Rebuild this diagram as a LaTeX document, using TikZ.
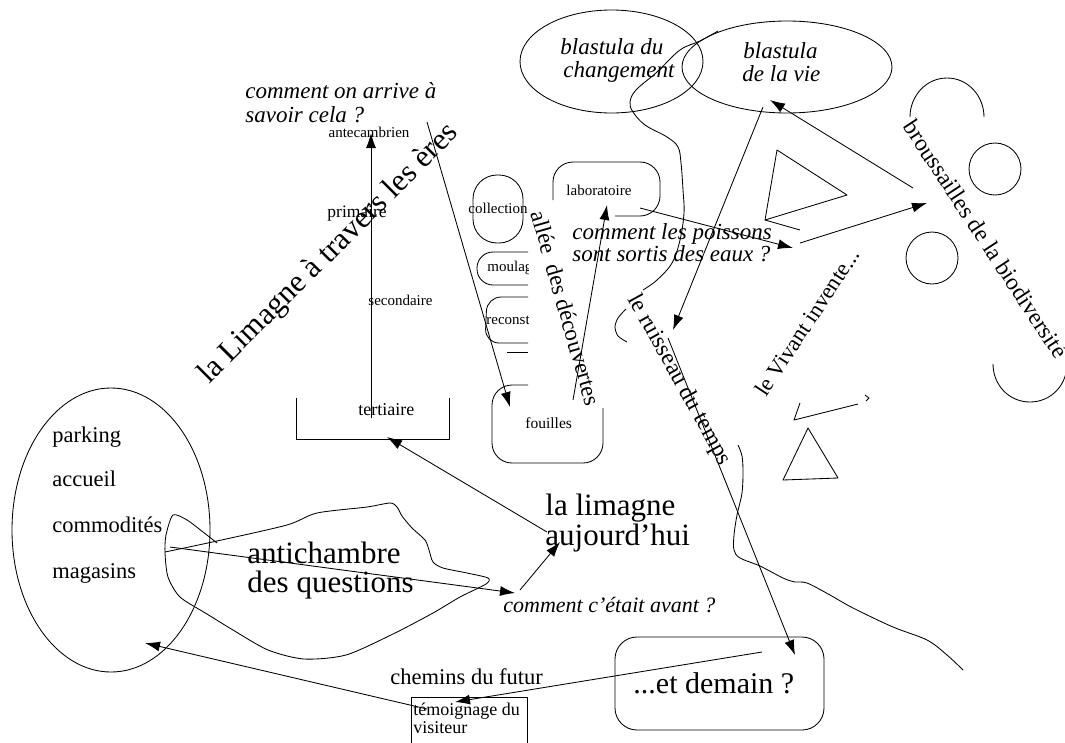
\documentclass[tikz,border=0pt]{standalone}
\usepackage{fontspec}
\setmainfont{Liberation Serif}
\usetikzlibrary{arrows.meta,shapes.geometric}
\newcommand\setsz[1]{\fontsize{#1}{#1}\selectfont}
\begin{document}
\begin{tikzpicture}[x=1pt,y=-1pt,line width=0.85pt,line join=round,
  arr/.style={-{Latex[length=15pt,width=10pt]}},
  lbl/.style={inner sep=0pt,anchor=base west},
  small/.style={lbl,font=\setsz{15}},
  mid/.style={lbl,font=\setsz{22.5}},
  ques/.style={lbl,font=\setsz{23}\itshape},
  big/.style={lbl,font=\setsz{31}},
  slant/.style={inner sep=0pt,font=\setsz{23.5}},
  bubble/.style={draw,circle,minimum size=52pt,inner sep=0pt},
  oval/.style={draw,ellipse,inner sep=0pt}]
\useasboundingbox (0,0) rectangle (1065,742);

% ---------- entrance zone ----------
\node[oval,minimum width=198pt,minimum height=284pt] (zone) at (111,530) {};
\node[mid] (parking) at (52,442) {parking};
\node[mid] (accueil) at (52,486) {accueil};
\node[mid] (commodites) at (52,532) {commodités};
\node[mid] (magasins) at (52,578) {magasins};

% antechamber outline
\draw plot[smooth,tension=0.45] coordinates {(165,552) (217,541) (287,525) (317,513) (367,507)
  (390,503) (397,507) (402,516) (412,528) (425,540) (429,550) (433,562) (443,568) (467,573)
  (488,578) (486,584) (460,597) (433,613) (393,634) (346,655) (304,659) (268,650) (233,630)
  (207,614) (180,597) (168,577) (165,553) (166,535) (173,515) (187,520) (203,532) (217,543)};
\node[big] (anti1) at (247,563) {antichambre};
\node[big] (anti2) at (247,592) {des questions};

% ---------- the eras ----------
\node[ques] (arrive1) at (245,98) {comment on arrive à};
\node[ques] (arrive2) at (245,122) {savoir cela ?};
\node[inner sep=0pt,anchor=base,font=\setsz{15}] (antecambrien) at (369,137) {antecambrien};
\node[lbl,font=\setsz{17.5}] (primaire) at (327,217) {primaire};
\node[small] (secondaire) at (368,305) {secondaire};
\node[lbl,font=\setsz{18}] (tertiaire) at (358,415) {tertiaire};
\draw (296,398) -- (296,439) -- (449,439) -- (449,398);
\node[rotate=45,inner sep=0pt,font=\setsz{31}] (eres) at (329,254) {la Limagne à travers les ères};

% ---------- discoveries alley ----------
\draw[rounded corners=24pt] (473,175) rectangle (523,243);
\node[small] (collection) at (468,213) {collection};
\draw[rounded corners=16pt] (528,252) -- (477,252) -- (477,285) -- (528,285);
\draw[rounded corners=14pt] (528,297) -- (487,297) -- (485,343) -- (528,343);
\draw (507,352) -- (528,352);
\begin{scope}
  \clip (460,240) rectangle (528,360);
  \node[small] (moulag) at (487,271) {moulag};
  \node[small] (reconst) at (486,324) {reconst};
\end{scope}
\draw[rounded corners=20pt] (528,385) -- (492,385) -- (492,463) -- (603,463) -- (603,408);
\node[lbl,font=\setsz{15.5}] (fouilles) at (525,428) {fouilles};
\draw[rounded corners=20pt] (553,200) -- (553,162) -- (660,162) -- (660,216) -- (615,216);
\node[small] (laboratoire) at (566,195) {laboratoire};
\node[rotate=-74,inner sep=0pt,font=\setsz{23}] (allee) at (566,308) {allée\ \ des découvertes};

\node[ques] (poissons1) at (572,239) {comment les poissons};
\node[ques] (poissons2) at (572,261) {sont sortis des eaux ?};

% ---------- blastulas ----------
\node[oval,minimum width=183pt,minimum height=103pt] (bchange) at (611.5,61.5) {};
\node[oval,minimum width=210pt,minimum height=92pt] (bvie) at (787,67) {};
\node[ques] (bchange1) at (560,54) {blastula du};
\node[ques] (bchange2) at (563,77) {changement};
\node[ques] (bvie1) at (743,58) {blastula};
\node[ques] (bvie2) at (742,81) {de la vie};

% ---------- stream of time ----------
\draw plot[smooth,tension=0.6] coordinates {(718,31) (700,41) (680,50) (657,72) (636,90) (630,102)
  (633,112) (645,125) (667,137) (678,147) (681,163) (683,190) (684,213) (680,240) (672,263)
  (657,280) (643,290)};
\draw plot[smooth] coordinates {(626,309) (618,318) (615,327) (618,336) (627,342)};
\draw plot[smooth,tension=0.55] coordinates {(738,445) (742,456) (743,472) (742,493) (737,515)
  (734,535) (734,550) (740,558) (760,566) (783,578) (795,582) (807,583) (830,595) (853,608)
  (893,627) (927,640) (947,655) (963,670)};
\node[rotate=-61,slant] (ruisseau) at (679,380) {le ruisseau du temps};

% ---------- living world ----------
\draw (777,150) -- (847,195) -- (765,220) -- cycle;
\draw (765,220) -- (800,230);
\draw (808,428) -- (783,480) -- (838,478) -- cycle;
\draw (800,403) -- (794,420) -- (858,404);
\draw (865,395) -- (869,398) -- (866,401);
\node[rotate=56.5,inner sep=0pt,font=\setsz{22.5}] (vivant) at (807,322) {le Vivant invente...};

% ---------- brushwood ----------
\draw (910,117) .. controls (910,96) and (926,78) .. (947,78) .. controls (968,78) and (984,96) .. (984,117);
\node[bubble] (bulle1) at (995,169) {};
\node[bubble] (bulle2) at (932,258) {};
\draw (993,364) .. controls (993,385) and (1009,402) .. (1030,402) .. controls (1051,402) and (1067,385) .. (1067,364);
\node[rotate=-56.7,slant] (brousse) at (986,239) {broussailles de la biodiversité};

% ---------- today and tomorrow ----------
\node[big] (limagne1) at (545,515) {la limagne};
\node[big] (limagne2) at (545,545) {aujourd’hui};
\node[lbl,font=\setsz{22}\itshape] (avant) at (503,612) {comment c’était avant ?};
\node[draw,rounded corners=22pt,minimum width=209pt,minimum height=93pt,inner sep=0pt] (demainbox) at (719.5,683.5) {};
\node[lbl,font=\setsz{30}] (demain) at (633,693) {...et demain ?};
\node[mid] (chemins) at (390,684) {chemins du futur};
\draw (411,697) rectangle (527,760);
\node[lbl,font=\setsz{18}] (temoin1) at (413,715) {témoignage du};
\node[lbl,font=\setsz{18}] (temoin2) at (413,733) {visiteur};

% ---------- connector ends ----------
\coordinate (tertBase) at (371,418);
\coordinate (anteTip) at (371,133);
\coordinate (savoirEnd) at (427,122);
\coordinate (fouilTip) at (510,407);
\coordinate (fouilTop) at (573,400);
\coordinate (laboTip) at (607,205);
\coordinate (laboOut) at (640,208);
\coordinate (poisTip) at (793,248);
\coordinate (poisOut) at (800,243);
\coordinate (brousTip) at (927,203);
\coordinate (brousOut) at (913,188);
\coordinate (vieTip) at (770,100);
\coordinate (vieOut) at (763,107);
\coordinate (ruisTip) at (673,330);
\coordinate (ruisOut) at (668,338);
\coordinate (demainTip) at (795,655);
\coordinate (demainOut) at (762,652);
\coordinate (temoinTip) at (455,702);
\coordinate (temoinOut) at (427,709);
\coordinate (zoneTip) at (145,643);
\coordinate (commOut) at (170,547);
\coordinate (avantTip) at (515,593);
\coordinate (avantOut) at (520,590);
\coordinate (limTip) at (560,542);
\coordinate (limOut) at (547,532);
\coordinate (tertTip) at (387,437);

% ---------- connectors ----------
\draw[arr] (tertBase) -- (anteTip);
\draw[arr] (savoirEnd) -- (fouilTip);
\draw[arr] (fouilTop) -- (laboTip);
\draw[arr] (laboOut) -- (poisTip);
\draw[arr] (poisOut) -- (brousTip);
\draw[arr] (brousOut) -- (vieTip);
\draw[arr] (vieOut) -- (ruisTip);
\draw[arr] (ruisOut) -- (demainTip);
\draw[arr] (demainOut) -- (temoinTip);
\draw[arr] (temoinOut) -- (zoneTip);
\draw[arr] (commOut) -- (avantTip);
\draw[arr] (avantOut) -- (limTip);
\draw[arr] (limOut) -- (tertTip);
\end{tikzpicture}
\end{document}
